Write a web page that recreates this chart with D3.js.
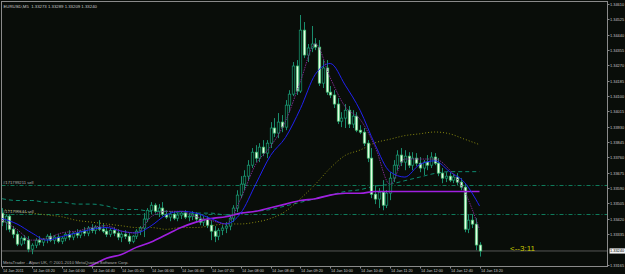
<!DOCTYPE html>
<html>
<head>
<meta charset="utf-8">
<script src="https://cdn.jsdelivr.net/npm/d3@7"></script>
<style>
  html, body { margin: 0; padding: 0; background: #090d09; }
  svg { display: block; }
</style>
</head>
<body>
<svg id="chart" width="625" height="274"></svg>
<script>
"use strict";

// EURUSD M5 bars, 14 Jan 2011 02:40 .. 13:20
const opens = [
  1.33450, 1.33400, 1.33433, 1.33361, 1.33333, 1.33278, 1.33311, 1.33300, 1.33250, 1.33272,
  1.33300, 1.33289, 1.33306, 1.33322, 1.33300, 1.33317, 1.33294, 1.33311, 1.33333, 1.33317,
  1.33339, 1.33328, 1.33350, 1.33339, 1.33367, 1.33355, 1.33372, 1.33361, 1.33350, 1.33333,
  1.33355, 1.33339, 1.33317, 1.33333, 1.33322, 1.33294, 1.33322, 1.33350, 1.33367, 1.33417,
  1.33466, 1.33494, 1.33461, 1.33478, 1.33444, 1.33428, 1.33444, 1.33422, 1.33439, 1.33450,
  1.33428, 1.33433, 1.33444, 1.33417, 1.33400, 1.33417, 1.33383, 1.33350, 1.33322, 1.33355,
  1.33367, 1.33378, 1.33422, 1.33478, 1.33550, 1.33611, 1.33655, 1.33716, 1.33788, 1.33755,
  1.33816, 1.33783, 1.33838, 1.33922, 1.33894, 1.33955, 1.33927, 1.34049, 1.34110, 1.34266,
  1.34127, 1.34465, 1.34327, 1.34366, 1.34388, 1.34371, 1.34171, 1.34255, 1.34121, 1.34105,
  1.34055, 1.33960, 1.33977, 1.34021, 1.33944, 1.33988, 1.33910, 1.33899, 1.33838, 1.33755,
  1.33555, 1.33528, 1.33566, 1.33494, 1.33561, 1.33644, 1.33716, 1.33772, 1.33733, 1.33766,
  1.33716, 1.33755, 1.33727, 1.33700, 1.33733, 1.33716, 1.33761, 1.33727, 1.33672, 1.33644,
  1.33655, 1.33633, 1.33650, 1.33622, 1.33594, 1.33361, 1.33411, 1.33389, 1.33273
];
const highs = [
  1.33478, 1.33444, 1.33444, 1.33378, 1.33350, 1.33322, 1.33328, 1.33322, 1.33283, 1.33311,
  1.33322, 1.33311, 1.33333, 1.33339, 1.33328, 1.33333, 1.33322, 1.33344, 1.33355, 1.33344,
  1.33361, 1.33355, 1.33372, 1.33378, 1.33389, 1.33383, 1.33411, 1.33389, 1.33372, 1.33367,
  1.33372, 1.33361, 1.33344, 1.33355, 1.33339, 1.33328, 1.33361, 1.33378, 1.33450, 1.33478,
  1.33511, 1.33505, 1.33500, 1.33511, 1.33466, 1.33455, 1.33461, 1.33450, 1.33461, 1.33466,
  1.33450, 1.33461, 1.33455, 1.33439, 1.33433, 1.33433, 1.33411, 1.33378, 1.33367, 1.33383,
  1.33400, 1.33439, 1.33494, 1.33577, 1.33655, 1.33688, 1.33744, 1.33811, 1.33827, 1.33838,
  1.33855, 1.33855, 1.33955, 1.33977, 1.34005, 1.33994, 1.34077, 1.34132, 1.34288, 1.34299,
  1.34549, 1.34510, 1.34388, 1.34488, 1.34421, 1.34410, 1.34299, 1.34299, 1.34155, 1.34132,
  1.34088, 1.34010, 1.34055, 1.34044, 1.34021, 1.34010, 1.33938, 1.33922, 1.33855, 1.33811,
  1.33605, 1.33589, 1.33633, 1.33577, 1.33677, 1.33744, 1.33799, 1.33811, 1.33799, 1.33788,
  1.33788, 1.33783, 1.33761, 1.33744, 1.33772, 1.33788, 1.33783, 1.33755, 1.33700, 1.33677,
  1.33677, 1.33666, 1.33672, 1.33644, 1.33611, 1.33444, 1.33444, 1.33422, 1.33289
];
const lows = [
  1.33378, 1.33355, 1.33344, 1.33311, 1.33267, 1.33267, 1.33278, 1.33233, 1.33222, 1.33256,
  1.33272, 1.33267, 1.33283, 1.33289, 1.33278, 1.33283, 1.33278, 1.33294, 1.33300, 1.33300,
  1.33311, 1.33311, 1.33322, 1.33322, 1.33339, 1.33333, 1.33350, 1.33339, 1.33317, 1.33317,
  1.33322, 1.33300, 1.33289, 1.33306, 1.33278, 1.33283, 1.33306, 1.33328, 1.33317, 1.33400,
  1.33444, 1.33450, 1.33428, 1.33433, 1.33417, 1.33405, 1.33411, 1.33405, 1.33417, 1.33417,
  1.33405, 1.33411, 1.33400, 1.33383, 1.33378, 1.33367, 1.33300, 1.33289, 1.33300, 1.33328,
  1.33339, 1.33355, 1.33400, 1.33455, 1.33533, 1.33577, 1.33633, 1.33700, 1.33733, 1.33733,
  1.33766, 1.33755, 1.33811, 1.33872, 1.33866, 1.33899, 1.33910, 1.34010, 1.34099, 1.34105,
  1.34116, 1.34310, 1.34288, 1.34343, 1.34354, 1.34155, 1.34144, 1.34105, 1.34088, 1.34033,
  1.33944, 1.33927, 1.33922, 1.33922, 1.33922, 1.33899, 1.33888, 1.33822, 1.33733, 1.33533,
  1.33500, 1.33478, 1.33466, 1.33478, 1.33522, 1.33622, 1.33688, 1.33711, 1.33688, 1.33700,
  1.33688, 1.33711, 1.33677, 1.33661, 1.33688, 1.33700, 1.33716, 1.33655, 1.33616, 1.33622,
  1.33622, 1.33616, 1.33605, 1.33577, 1.33344, 1.33339, 1.33367, 1.33244, 1.33209
];
const closes = [
  1.33400, 1.33433, 1.33361, 1.33333, 1.33278, 1.33311, 1.33300, 1.33250, 1.33272, 1.33300,
  1.33289, 1.33306, 1.33322, 1.33300, 1.33317, 1.33294, 1.33311, 1.33333, 1.33317, 1.33339,
  1.33328, 1.33350, 1.33339, 1.33367, 1.33355, 1.33372, 1.33361, 1.33350, 1.33333, 1.33355,
  1.33339, 1.33317, 1.33333, 1.33322, 1.33294, 1.33322, 1.33350, 1.33367, 1.33417, 1.33466,
  1.33494, 1.33461, 1.33478, 1.33444, 1.33428, 1.33444, 1.33422, 1.33439, 1.33450, 1.33428,
  1.33433, 1.33444, 1.33417, 1.33400, 1.33417, 1.33383, 1.33350, 1.33322, 1.33355, 1.33367,
  1.33378, 1.33422, 1.33478, 1.33550, 1.33611, 1.33655, 1.33716, 1.33788, 1.33755, 1.33816,
  1.33783, 1.33838, 1.33922, 1.33894, 1.33955, 1.33927, 1.34049, 1.34110, 1.34266, 1.34127,
  1.34465, 1.34327, 1.34366, 1.34388, 1.34371, 1.34171, 1.34255, 1.34121, 1.34105, 1.34055,
  1.33960, 1.33977, 1.34021, 1.33944, 1.33988, 1.33910, 1.33899, 1.33838, 1.33755, 1.33555,
  1.33528, 1.33566, 1.33494, 1.33561, 1.33644, 1.33716, 1.33772, 1.33733, 1.33766, 1.33716,
  1.33755, 1.33727, 1.33700, 1.33733, 1.33716, 1.33761, 1.33727, 1.33672, 1.33644, 1.33655,
  1.33633, 1.33650, 1.33622, 1.33594, 1.33361, 1.33411, 1.33389, 1.33273, 1.33240
];

const priceTicks = [1.34610, 1.34525, 1.34440, 1.34355, 1.34270, 1.34185, 1.34100, 1.34015,
  1.33930, 1.33845, 1.33760, 1.33675, 1.33590, 1.33505, 1.33420, 1.33335, 1.33165];
const timeLabels = ["14 Jan 2011", "14 Jan 03:20", "14 Jan 04:00", "14 Jan 04:40", "14 Jan 05:20",
  "14 Jan 06:00", "14 Jan 06:40", "14 Jan 07:20", "14 Jan 08:00", "14 Jan 08:40", "14 Jan 09:20",
  "14 Jan 10:00", "14 Jan 10:40", "14 Jan 11:20", "14 Jan 12:00", "14 Jan 12:40", "14 Jan 13:20"];
const timeLabelBars = [0, 8, 16, 24, 32, 40, 48, 56, 64, 72, 80, 88, 96, 104, 112, 120, 128];

// indicator readings every 4 bars
const sampleBars = d3.range(0, 129, 4);
const maBlue = [1.3342, 1.3339, 1.3334, 1.3330, 1.3332, 1.3334, 1.3336, 1.3337, 1.3335, 1.3334,
  1.3338, 1.3344, 1.3346, 1.3345, 1.3342, 1.3339, 1.3345, 1.3361, 1.3377, 1.3387, 1.3403, 1.3422,
  1.3428, 1.3416, 1.3402, 1.3383, 1.3368, 1.3365, 1.3372, 1.3374, 1.3368, 1.3362, 1.3349];
const maPurpleDot = [1.3341, 1.3336, 1.3330, 1.3331, 1.3334, 1.3335, 1.3337, 1.3338, 1.3335, 1.3334,
  1.3343, 1.3346, 1.3346, 1.3343, 1.3341, 1.3339, 1.3353, 1.3372, 1.3382, 1.3396, 1.3418, 1.3439,
  1.3420, 1.3404, 1.3397, 1.3382, 1.3361, 1.3375, 1.3375, 1.3375, 1.3369, 1.3357, 1.3336];
const maViolet = [null, null, null, null, null, 1.3313, 1.3316, 1.3320, 1.3322, 1.3326, 1.3329,
  1.3333, 1.3337, 1.3340, 1.3342, 1.3343, 1.3345, 1.3346, 1.3348, 1.3350, 1.3352, 1.3353, 1.3355,
  1.3356, 1.3356, 1.3357, 1.3357, 1.3357, 1.3357, 1.3357, 1.3357, 1.3357, 1.3357];
const maOlive = [1.3347, 1.3346, 1.3345, 1.3344, 1.3343, 1.3341, 1.3340, 1.3339, 1.3338, 1.3337,
  1.3337, 1.3336, 1.3337, 1.3337, 1.3338, 1.3339, 1.3339, 1.3340, 1.3342, 1.3346, 1.3353, 1.3361,
  1.3370, 1.3377, 1.3380, 1.3384, 1.3386, 1.3388, 1.3389, 1.3390, 1.3389, 1.3386, 1.3383];
const maTeal = [1.3353, 1.3352, 1.3352, 1.3351, 1.3351, 1.3350, 1.3350, 1.3349, 1.3347, 1.3347,
  1.3346, 1.3346, 1.3345, 1.3345, 1.3345, 1.3344, 1.3345, 1.3346, 1.3347, 1.3349, 1.3351, 1.3353,
  1.3355, 1.3357, 1.3358, 1.3360, 1.3361, 1.3363, 1.3365, 1.3367, 1.3368, 1.3368, 1.3368];

const orderLabels = ["#171799211 sell", "#171799644 sell"];
const orderPrices = [1.33605, 1.33445];
const header = "EURUSD,M5  1.33273 1.33289 1.33209 1.33240";
const bidPrice = 1.33240;

const W = 625, H = 274;
const plot = { left: 1.5, right: 607.5, top: 1.5, bottom: 266.5 };
const svg = d3.select("#chart");
const font = "'Liberation Sans', Arial, sans-serif";

const x = d3.scaleLinear().domain([0, 128]).range([2, 479.5]);
const y = d3.scaleLinear().domain([1.33165, 1.34610]).range([264.5, 4]);

svg.append("rect").attr("width", W).attr("height", H).attr("fill", "#090d09");
svg.append("defs").append("clipPath").attr("id", "plotClip")
  .append("rect").attr("x", plot.left).attr("y", plot.top)
  .attr("width", plot.right - plot.left).attr("height", plot.bottom - plot.top);

const g = svg.append("g").attr("clip-path", "url(#plotClip)");

// order lines
orderPrices.forEach((p, i) => {
  const yy = Math.round(y(p)) + 0.5;
  g.append("line").attr("x1", plot.left).attr("x2", plot.right)
    .attr("y1", yy).attr("y2", yy)
    .attr("stroke", "#0f7a5a").attr("stroke-dasharray", "4,2,1,2");
  svg.append("text").attr("x", 3).attr("y", yy - 1.5).text(orderLabels[i])
    .attr("font-family", font).attr("font-size", 4.2).attr("fill", "#b0b0b0");
});

// bid line
g.append("line").attr("x1", plot.left).attr("x2", plot.right)
  .attr("y1", y(bidPrice)).attr("y2", y(bidPrice)).attr("stroke", "#6a6a6a").attr("stroke-width", 0.8);

const sampled = (vals) => sampleBars.map((b, i) => ({ b, v: vals[i] })).filter((d) => d.v !== null);
const line = d3.line().x((d) => x(d.b)).y((d) => y(d.v)).curve(d3.curveMonotoneX);

const drawMA = (vals, color, width, dash) => {
  g.append("path").datum(sampled(vals)).attr("d", line).attr("fill", "none")
    .attr("stroke", color).attr("stroke-width", width).attr("stroke-dasharray", dash);
};

drawMA(maTeal, "#0e8a70", 1, "4,3");
drawMA(maOlive, "#8a8a10", 1, "1,2");

// candles: bull = dark body with teal outline, bear = pale body
const bars = closes.map((c, i) => ({ i, o: opens[i], h: highs[i], l: lows[i], c }));
const candle = g.selectAll("g.bar").data(bars).enter().append("g").attr("class", "bar");
candle.append("line")
  .attr("x1", (d) => Math.round(x(d.i)) + 0.5).attr("x2", (d) => Math.round(x(d.i)) + 0.5)
  .attr("y1", (d) => y(d.h)).attr("y2", (d) => y(d.l))
  .attr("stroke", "#1a8c6c").attr("stroke-width", 1);
candle.append("rect")
  .attr("x", (d) => Math.round(x(d.i)) - 0.75)
  .attr("y", (d) => y(Math.max(d.o, d.c)))
  .attr("width", 2.5)
  .attr("height", (d) => Math.max(0.8, Math.abs(y(d.o) - y(d.c))))
  .attr("fill", (d) => (d.c >= d.o ? "#05100a" : "#e4ffe4"))
  .attr("stroke", (d) => (d.c >= d.o ? "#1a9c74" : "#40c070")).attr("stroke-width", 0.7);

drawMA(maViolet, "#a020e0", 1.6, null);
drawMA(maBlue, "#2222f0", 1, null);
drawMA(maPurpleDot, "#7a2a8a", 1, "1.5,1");

// frame
svg.append("rect").attr("x", plot.left).attr("y", plot.top)
  .attr("width", plot.right - plot.left).attr("height", plot.bottom - plot.top)
  .attr("fill", "none").attr("stroke", "#8a8a8a").attr("stroke-width", 1);

// price axis
const yAxis = svg.append("g");
priceTicks.forEach((p) => {
  const yy = Math.round(y(p)) + 0.5;
  yAxis.append("line").attr("x1", plot.right).attr("x2", plot.right + 2)
    .attr("y1", yy).attr("y2", yy).attr("stroke", "#8a8a8a");
  yAxis.append("text").attr("x", plot.right + 2.5).attr("y", yy + 1.4).text(p.toFixed(5))
    .attr("font-family", font).attr("font-size", 3.9).attr("fill", "#c8c8c8");
});
yAxis.append("rect").attr("x", plot.right + 2).attr("y", y(bidPrice) - 2.6)
  .attr("width", 15.5).attr("height", 5.2).attr("fill", "#f4f4f4");
yAxis.append("text").attr("x", plot.right + 2.5).attr("y", y(bidPrice) + 1.4).text(bidPrice.toFixed(5))
  .attr("font-family", font).attr("font-size", 3.9).attr("fill", "#000");

// time axis
timeLabelBars.forEach((b, i) => {
  const xx = Math.round(x(b)) + 0.5;
  svg.append("line").attr("x1", xx).attr("x2", xx).attr("y1", plot.bottom).attr("y2", plot.bottom + 2)
    .attr("stroke", "#8a8a8a");
  svg.append("text").attr("x", xx + 0.5).attr("y", 271.5).text(timeLabels[i])
    .attr("font-family", font).attr("font-size", 3.8).attr("fill", "#c8c8c8");
});

svg.append("text").attr("x", 3.5).attr("y", 7.5).text(header).attr("xml:space", "preserve")
  .attr("font-family", font).attr("font-size", 4.3).attr("fill", "#c8c8c8");
svg.append("text").attr("x", 3).attr("y", 264).text("MetaTrader - Alpari UK, © 2001-2010 MetaQuotes Software Corp.")
  .attr("font-family", font).attr("font-size", 4.3).attr("fill", "#b0b0b0");
svg.append("text").attr("x", 510).attr("y", 250.5).text("<--3:11")
  .attr("font-family", font).attr("font-size", 8).attr("fill", "#c8c800");
</script>
</body>
</html>
